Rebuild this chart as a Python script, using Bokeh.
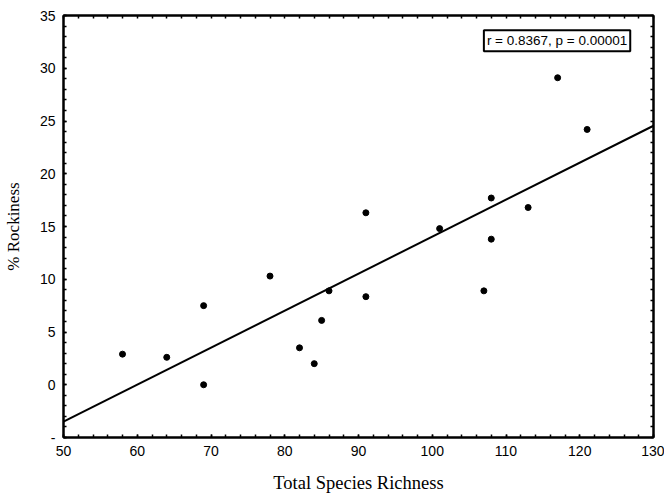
import numpy as np
from bokeh.plotting import figure
from bokeh.models import LinearAxis, Label, Range1d, FixedTicker
from bokeh.embed import file_html
from bokeh.resources import INLINE

# Data
richness = [58, 64, 69, 69, 78, 82, 84, 85, 86, 91, 91, 101, 107, 108, 108, 113, 117, 121]
rockiness = [2.9, 2.6, 7.5, 0.0, 10.3, 3.5, 2.0, 6.1, 8.9, 16.3, 8.35, 14.8, 8.9, 13.8, 17.7, 16.8, 29.1, 24.2]

x_ticks = [50, 60, 70, 80, 90, 100, 110, 120, 130]
y_ticks = [-5, 0, 5, 10, 15, 20, 25, 30, 35]
y_tick_labels = {-5: "-"}
stat_text = "r = 0.8367, p = 0.00001"

# least-squares fit line
slope, intercept = np.polyfit(richness, rockiness, 1)
fit_x = [50, 130]
fit_y = [intercept + slope * v for v in fit_x]

p = figure(width=664, height=497, output_backend="svg", toolbar_location=None,
           x_range=Range1d(50, 130), y_range=Range1d(-5, 35),
           min_border_left=63, min_border_right=11, min_border_top=15, min_border_bottom=60,
           x_axis_label="Total Species Richness", y_axis_label="% Rockiness")
p.background_fill_color = "white"
p.border_fill_color = "white"
p.xgrid.visible = False
p.ygrid.visible = False
p.outline_line_color = "black"
p.outline_line_width = 2

tick_font = "Liberation Sans"
label_font = "Liberation Serif"

x_minor = [50 + 2 * i for i in range(41)]
y_minor = [-5 + i for i in range(41)]

def style_ticks(ax):
    ax.axis_line_color = "black"
    ax.axis_line_width = 2
    ax.major_tick_in = 3
    ax.major_tick_out = 0
    ax.minor_tick_in = 3
    ax.minor_tick_out = 0
    ax.major_tick_line_color = "black"
    ax.minor_tick_line_color = "black"
    ax.major_tick_line_width = 1.5
    ax.minor_tick_line_width = 1.5

def style_main(ax, ticks, minor, label_size, label_standoff):
    ax.ticker = FixedTicker(ticks=ticks, minor_ticks=minor)
    style_ticks(ax)
    ax.major_label_text_font = tick_font
    ax.major_label_text_font_size = "14px"
    ax.major_label_text_color = "black"
    ax.major_label_standoff = 8
    ax.axis_label_text_font = label_font
    ax.axis_label_text_font_size = label_size
    ax.axis_label_text_font_style = "normal"
    ax.axis_label_text_color = "black"
    ax.axis_label_standoff = label_standoff

style_main(p.xaxis[0], x_ticks, x_minor, "18.5px", 14)
style_main(p.yaxis[0], y_ticks, y_minor, "17px", 14)
p.yaxis[0].major_label_overrides = y_tick_labels

# mirrored tick marks on top and right (no labels)
top = LinearAxis(ticker=FixedTicker(ticks=[], minor_ticks=x_minor))
right = LinearAxis(ticker=FixedTicker(ticks=[], minor_ticks=y_minor))
for ax in (top, right):
    style_ticks(ax)
    ax.major_label_standoff = 0
p.add_layout(top, "above")
p.add_layout(right, "right")

p.line(fit_x, fit_y, line_color="black", line_width=2)
p.scatter(richness, rockiness, size=6, fill_color="black", line_color="black")

lab = Label(x=107, y=32.6, text=stat_text, text_font=tick_font, text_font_size="13.5px",
            text_baseline="middle", text_align="left", text_color="black",
            border_line_color="black", border_line_width=2,
            background_fill_color="white", padding=3)
p.add_layout(lab)

open("out.html", "w").write(file_html(p, INLINE))
